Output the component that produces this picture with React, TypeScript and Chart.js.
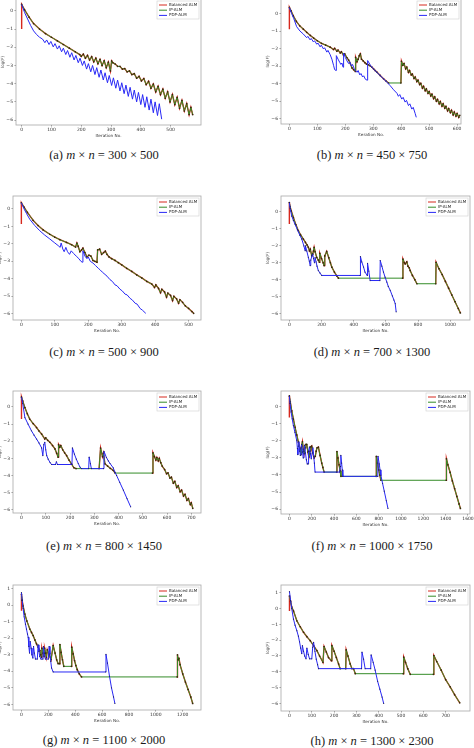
import React, { useEffect, useRef } from "react";
import { Chart, registerables } from "chart.js";
Chart.register(...registerables);

type P = [number, number][];

const SERIES_NAMES = ["Balanced ALM", "IP-ALM", "PDP-ALM"];
const Y_LABEL = "log(F)";
const X_LABEL = "Iteration No.";
const Y_TICKS_6 = [-6, -5, -4, -3, -2, -1, 0];
const Y_TICKS_7 = [-6, -5, -4, -3, -2, -1, 0, 1];

// (a) 300 x 500
const A_XTICKS = [0, 100, 200, 300, 400, 500];
const A_SPIKE = -1.0;
const A_IP: P = [[0,0.35],[10,0.05],[25,-0.35],[40,-0.7],[60,-1.0],[80,-1.25],[100,-1.45],[120,-1.65],[140,-1.85],[160,-2.05],[180,-2.25],[195,-2.4],[200,-2.5],[207,-2.38],[214,-2.6],[221,-2.45],[228,-2.7],[235,-2.52],[242,-2.8],[249,-2.6],[256,-2.9],[263,-2.67],[270,-3.0],[277,-2.74],[284,-3.12],[291,-2.82],[298,-3.3],[302,-2.75],[306,-2.85],[314,-2.92],[322,-3.05],[330,-3.05],[338,-3.2],[346,-3.17],[354,-3.35],[362,-3.3],[370,-3.5],[378,-3.45],[386,-3.7],[394,-3.6],[402,-3.85],[410,-3.72],[418,-4.05],[426,-3.87],[434,-4.25],[442,-4.02],[450,-4.45],[458,-4.15],[466,-4.6],[474,-4.3],[482,-4.8],[490,-4.45],[498,-5.0],[506,-4.6],[514,-5.15],[522,-4.75],[530,-5.35],[538,-4.92],[546,-5.5],[554,-5.1],[562,-5.7],[568,-5.3],[574,-5.7]];
const A_PDP: P = [[0,0.35],[10,-0.1],[20,-0.45],[30,-0.8],[40,-1.1],[50,-1.3],[60,-1.45],[70,-1.55],[78,-1.75],[84,-1.6],[92,-1.85],[98,-1.68],[106,-1.98],[112,-1.8],[120,-2.1],[126,-1.92],[134,-2.25],[140,-2.05],[148,-2.4],[154,-2.18],[162,-2.55],[168,-2.3],[176,-2.7],[182,-2.45],[190,-2.85],[196,-2.6],[204,-3.0],[210,-2.75],[218,-3.2],[224,-2.9],[232,-3.35],[238,-3.0],[246,-3.5],[252,-3.12],[260,-3.65],[266,-3.25],[274,-3.8],[280,-3.4],[288,-3.95],[294,-3.55],[302,-4.1],[308,-3.68],[316,-4.25],[322,-3.8],[330,-4.4],[336,-3.95],[344,-4.55],[350,-4.08],[358,-4.7],[364,-4.2],[372,-4.85],[378,-4.35],[386,-5.0],[392,-4.48],[400,-5.15],[406,-4.6],[414,-5.3],[420,-4.72],[428,-5.45],[434,-4.85],[442,-5.6],[448,-5.0],[456,-5.75],[462,-5.1],[470,-5.95]];

// (b) 450 x 750
const B_XTICKS = [0, 100, 200, 300, 400, 500, 600];
const B_SPIKE = -0.89;
const B_IP: P = [[0,0.35],[6,0.15],[14,-0.13],[25,-0.45],[37,-0.7],[50,-0.89],[62,-1.07],[75,-1.25],[87,-1.4],[100,-1.55],[115,-1.7],[130,-1.8],[146,-1.92],[158,-2.05],[162,-1.98],[170,-2.15],[174,-2.08],[182,-2.25],[186,-2.18],[194,-2.38],[198,-2.3],[206,-2.52],[212,-2.65],[218,-2.85],[224,-3.1],[230,-3.2],[236,-3.3],[237,-2.5],[242,-2.75],[246,-2.6],[250,-2.4],[254,-2.3],[258,-2.6],[264,-2.7],[270,-2.8],[276,-2.88],[282,-2.92],[289,-2.98],[295,-3.05],[301,-3.15],[307,-3.25],[313,-3.34],[325,-3.53],[337,-3.72],[346,-3.85],[355,-3.96],[399,-3.96],[401,-2.72],[406,-2.95],[410,-2.85],[416,-3.15],[420,-3.05],[426,-3.35],[430,-3.25],[436,-3.5],[440,-3.45],[446,-3.7],[450,-3.62],[456,-3.88],[460,-3.8],[466,-4.05],[470,-3.98],[476,-4.25],[480,-4.15],[486,-4.4],[490,-4.3],[496,-4.55],[500,-4.45],[506,-4.7],[510,-4.6],[516,-4.85],[520,-4.75],[526,-5.0],[530,-4.9],[536,-5.15],[540,-5.02],[546,-5.28],[550,-5.15],[556,-5.4],[560,-5.3],[566,-5.55],[570,-5.42],[576,-5.65],[580,-5.52],[586,-5.78],[590,-5.62],[596,-5.85],[600,-5.7],[606,-5.92],[610,-5.8]];
const B_PDP: P = [[0,0.35],[8,0.0],[16,-0.3],[26,-0.75],[38,-1.0],[50,-1.17],[62,-1.38],[66,-1.3],[74,-1.5],[78,-1.42],[86,-1.62],[90,-1.55],[98,-1.75],[102,-1.68],[110,-1.9],[114,-1.8],[122,-2.02],[126,-1.95],[134,-2.2],[138,-2.1],[146,-2.35],[152,-2.6],[158,-2.95],[162,-3.2],[167,-3.25],[168,-2.4],[174,-2.6],[180,-2.78],[184,-2.9],[188,-2.82],[192,-3.06],[194,-2.26],[200,-2.5],[206,-2.7],[212,-2.85],[216,-2.75],[222,-3.0],[226,-2.9],[232,-3.15],[236,-3.25],[242,-3.35],[246,-3.25],[252,-3.5],[256,-3.42],[262,-3.62],[266,-3.55],[272,-3.75],[278,-3.8],[280,-2.68],[290,-2.95],[300,-3.15],[313,-3.35],[325,-3.55],[337,-3.72],[349,-3.92],[361,-4.12],[373,-4.35],[385,-4.55],[390,-4.72],[395,-4.62],[402,-4.88],[407,-4.78],[414,-5.05],[419,-4.95],[426,-5.25],[431,-5.15],[438,-5.45],[443,-5.35],[450,-5.7],[454,-5.92]];

// (c) 500 x 900
const C_XTICKS = [0, 100, 200, 300, 400, 500];
const C_SPIKE = -0.87;
const C_IP: P = [[0,0.35],[8,0.1],[18,-0.2],[35,-0.65],[50,-0.95],[65,-1.2],[85,-1.45],[100,-1.62],[115,-1.76],[135,-1.92],[150,-2.05],[162,-2.18],[166,-1.95],[170,-2.15],[175,-2.45],[180,-2.35],[184,-2.25],[190,-2.5],[196,-2.75],[202,-2.65],[208,-2.7],[214,-2.95],[220,-3.0],[226,-3.05],[228,-2.35],[234,-2.3],[240,-2.6],[246,-2.5],[251,-2.42],[256,-2.6],[262,-2.75],[270,-2.85],[280,-2.95],[290,-3.08],[300,-3.2],[315,-3.4],[330,-3.58],[345,-3.78],[360,-3.95],[375,-4.15],[390,-4.3],[398,-4.5],[402,-4.35],[410,-4.55],[416,-4.8],[420,-4.6],[428,-4.75],[434,-5.05],[438,-4.82],[446,-4.95],[452,-5.25],[456,-5.0],[464,-5.15],[470,-5.4],[474,-5.2],[482,-5.35],[490,-5.55],[500,-5.7],[510,-5.88],[515,-5.98]];
const C_PDP: P = [[0,0.35],[8,0.0],[15,-0.25],[25,-0.59],[40,-0.95],[55,-1.25],[70,-1.5],[85,-1.72],[100,-1.95],[110,-2.1],[116,-2.2],[119,-1.95],[124,-2.3],[128,-2.45],[133,-2.2],[138,-2.45],[144,-2.6],[149,-2.4],[156,-2.55],[164,-2.7],[172,-2.85],[178,-3.0],[182,-3.05],[184,-2.4],[190,-2.7],[196,-2.85],[200,-2.75],[206,-3.0],[214,-3.1],[222,-3.25],[230,-3.4],[236,-3.5],[242,-3.62],[250,-3.75],[256,-3.85],[265,-4.05],[272,-4.15],[280,-4.35],[286,-4.4],[295,-4.6],[302,-4.7],[310,-4.88],[316,-4.92],[325,-5.12],[332,-5.22],[340,-5.4],[346,-5.45],[355,-5.7],[362,-5.8],[372,-5.98]];

// (d) 700 x 1300
const D_XTICKS = [0, 200, 400, 600, 800, 1000];
const D_SPIKE = -0.72;
const D_IP: P = [[0,0.55],[5,0.3],[12,0.05],[25,-0.33],[40,-0.75],[56,-1.11],[70,-1.35],[87,-1.6],[100,-1.8],[110,-1.95],[118,-2.09],[125,-2.3],[130,-2.2],[139,-2.58],[145,-2.5],[150,-2.3],[154,-2.09],[160,-2.35],[170,-2.68],[180,-2.85],[187,-2.97],[189,-2.44],[200,-2.75],[210,-3.0],[216,-3.17],[220,-2.6],[232,-2.33],[245,-2.7],[255,-3.0],[264,-3.26],[280,-3.55],[295,-3.78],[305,-3.91],[704,-3.91],[706,-2.78],[715,-3.0],[720,-3.07],[730,-2.95],[737,-3.2],[745,-3.3],[751,-3.46],[765,-3.75],[780,-4.0],[793,-4.24],[910,-4.24],[912,-2.97],[930,-3.35],[950,-3.7],[970,-4.1],[990,-4.5],[1010,-4.9],[1030,-5.3],[1050,-5.7],[1063,-5.96]];
const D_PDP: P = [[0,0.55],[5,0.2],[15,-0.25],[25,-0.5],[35,-0.72],[50,-1.05],[65,-1.38],[77,-1.6],[90,-2.0],[98,-2.29],[100,-2.0],[108,-2.3],[118,-2.68],[124,-2.9],[129,-3.17],[133,-2.85],[140,-2.6],[145,-2.48],[150,-2.75],[156,-3.0],[160,-2.7],[166,-2.95],[172,-3.2],[180,-3.46],[190,-3.6],[201,-3.75],[440,-3.75],[442,-2.64],[450,-2.95],[461,-3.25],[470,-3.55],[484,-3.75],[486,-3.03],[494,-3.5],[502,-4.05],[563,-4.05],[565,-2.87],[575,-3.2],[585,-3.55],[595,-3.85],[606,-4.14],[615,-4.4],[627,-4.63],[640,-4.95],[650,-5.2],[658,-5.41],[664,-5.9]];

// (e) 800 x 1450
const E_XTICKS = [0, 100, 200, 300, 400, 500, 600, 700];
const E_SPIKE = -0.71;
const E_IP: P = [[0,0.58],[5,0.35],[14,-0.04],[24,-0.4],[34,-0.71],[48,-0.97],[62,-1.2],[72,-1.4],[83,-1.58],[96,-1.87],[100,-1.8],[108,-1.95],[117,-2.06],[128,-2.25],[138,-2.45],[145,-2.7],[151,-2.93],[153,-2.2],[158,-2.35],[162,-2.25],[170,-2.5],[178,-2.68],[186,-2.84],[196,-3.1],[206,-3.32],[216,-3.55],[225,-3.6],[320,-3.6],[326,-2.4],[334,-2.9],[338,-2.7],[344,-3.32],[355,-3.45],[366,-3.58],[378,-3.7],[386,-3.86],[540,-3.86],[542,-2.68],[548,-2.9],[554,-3.1],[558,-2.95],[564,-3.15],[568,-3.0],[574,-3.25],[580,-3.45],[590,-3.65],[598,-3.9],[604,-3.85],[612,-4.15],[618,-4.1],[626,-4.45],[632,-4.35],[640,-4.7],[646,-4.6],[654,-4.95],[660,-4.85],[668,-5.2],[674,-5.1],[682,-5.45],[688,-5.35],[696,-5.7],[700,-5.6],[706,-5.92]];
const E_PDP: P = [[0,0.58],[5,0.2],[14,-0.62],[27,-1.0],[41,-1.39],[52,-1.65],[62,-1.87],[72,-2.1],[83,-2.39],[88,-2.84],[92,-2.2],[96,-2.06],[100,-2.5],[104,-2.84],[110,-3.05],[118,-3.25],[124,-3.36],[140,-3.36],[144,-3.2],[148,-3.36],[208,-3.36],[210,-2.39],[218,-2.75],[226,-3.05],[234,-3.3],[241,-3.51],[248,-3.6],[277,-3.6],[279,-2.93],[284,-3.3],[288,-3.6],[338,-3.6],[340,-2.59],[350,-2.95],[358,-3.15],[365,-3.3],[378,-3.55],[385,-3.8],[392,-4.0],[405,-4.4],[420,-4.86],[435,-5.35],[450,-5.83]];

// (f) 1000 x 1750
const F_XTICKS = [0, 200, 400, 600, 800, 1000, 1200, 1400, 1600];
const F_SPIKE = -0.62;
const F_IP: P = [[0,0.64],[8,0.3],[21,-0.23],[36,-0.72],[51,-1.2],[66,-1.65],[81,-2.08],[96,-2.47],[104,-2.8],[110,-2.3],[117,-2.05],[125,-2.5],[132,-2.75],[140,-2.4],[148,-2.2],[156,-2.2],[166,-2.65],[175,-2.95],[185,-2.6],[192,-2.35],[200,-2.3],[210,-2.7],[222,-3.0],[232,-2.9],[240,-2.6],[248,-2.4],[260,-2.37],[275,-2.85],[290,-3.3],[300,-3.55],[311,-3.83],[424,-3.83],[426,-2.62],[435,-3.0],[445,-3.4],[455,-3.75],[462,-4.08],[777,-4.08],[779,-2.91],[790,-3.3],[800,-3.7],[810,-4.0],[820,-4.31],[1405,-4.31],[1407,-3.05],[1420,-3.4],[1440,-3.85],[1460,-4.35],[1480,-4.8],[1500,-5.25],[1520,-5.7],[1532,-5.96]];
const F_PDP: P = [[0,0.64],[6,0.2],[15,-0.3],[25,-0.7],[36,-1.1],[50,-1.5],[66,-1.98],[72,-2.45],[76,-2.8],[80,-2.3],[85,-2.05],[92,-2.6],[98,-2.85],[104,-2.4],[110,-2.2],[118,-2.65],[124,-3.0],[130,-2.6],[136,-2.25],[144,-2.7],[152,-3.1],[160,-3.35],[168,-3.35],[172,-2.6],[180,-2.35],[188,-2.75],[196,-3.05],[204,-2.7],[210,-2.4],[218,-2.9],[224,-3.3],[230,-3.83],[450,-3.83],[458,-3.5],[461,-2.85],[468,-3.3],[474,-3.7],[479,-4.08],[792,-4.08],[794,-2.91],[805,-3.35],[812,-3.7],[820,-4.02],[835,-4.5],[850,-4.95],[868,-5.5],[883,-5.96]];

// (g) 1100 x 2000
const G_XTICKS = [0, 200, 400, 600, 800, 1000, 1200];
const G_SPIKE = -0.34;
const G_IP: P = [[0,0.66],[5,0.3],[12,-0.05],[25,-0.54],[40,-0.95],[62,-1.44],[75,-1.65],[87,-1.84],[100,-2.1],[112,-2.34],[125,-2.55],[137,-2.74],[143,-3.0],[149,-3.14],[152,-2.6],[160,-2.9],[168,-3.1],[172,-2.6],[180,-2.9],[186,-3.15],[192,-2.7],[205,-3.0],[220,-3.3],[236,-2.44],[250,-2.9],[262,-3.3],[273,-3.54],[284,-3.54],[286,-2.38],[295,-2.85],[305,-3.3],[315,-3.7],[372,-3.7],[374,-2.54],[385,-2.95],[395,-3.35],[405,-3.65],[415,-3.9],[430,-4.15],[447,-4.34],[1159,-4.34],[1161,-3.0],[1166,-3.3],[1172,-3.2],[1180,-3.6],[1200,-4.15],[1220,-4.65],[1240,-5.1],[1260,-5.55],[1274,-5.94]];
const G_PDP: P = [[0,0.76],[5,0.3],[12,-0.2],[20,-0.7],[30,-1.15],[37,-1.44],[45,-1.75],[50,-1.94],[55,-2.5],[60,-2.9],[65,-2.2],[72,-2.6],[78,-3.0],[85,-3.2],[90,-2.5],[96,-2.9],[104,-3.26],[118,-3.26],[124,-2.4],[130,-2.8],[136,-3.1],[145,-3.26],[160,-3.26],[164,-2.5],[170,-2.9],[178,-3.26],[200,-3.26],[206,-2.5],[212,-2.95],[218,-3.4],[224,-3.8],[236,-4.04],[627,-4.04],[629,-2.98],[640,-3.5],[655,-4.3],[670,-5.0],[685,-5.55],[695,-5.94]];

// (h) 1300 x 2300
const H_XTICKS = [0, 100, 200, 300, 400, 500, 600, 700];
const H_SPIKE = -0.15;
const H_IP: P = [[0,0.8],[5,0.45],[10,0.1],[18,-0.15],[33,-0.77],[48,-1.15],[63,-1.5],[78,-1.78],[93,-2.03],[108,-2.35],[123,-2.66],[135,-3.0],[150,-3.4],[155,-2.4],[165,-2.75],[175,-3.1],[188,-3.3],[190,-2.34],[200,-2.7],[210,-3.1],[220,-3.5],[227,-3.8],[252,-3.8],[254,-2.61],[262,-3.0],[272,-3.5],[280,-3.8],[287,-3.8],[295,-4.12],[510,-4.12],[512,-3.07],[520,-3.4],[530,-3.8],[541,-4.16],[645,-4.16],[647,-2.97],[660,-3.35],[680,-3.9],[700,-4.5],[720,-4.95],[740,-5.45],[763,-5.96]];
const H_PDP: P = [[0,1.07],[5,0.5],[10,0.0],[18,-0.67],[25,-1.05],[33,-1.4],[40,-1.75],[45,-2.1],[50,-2.5],[55,-2.85],[58,-2.35],[63,-2.7],[68,-3.0],[74,-3.18],[78,-2.5],[84,-2.9],[90,-3.18],[100,-3.18],[104,-2.45],[108,-2.13],[114,-2.7],[120,-3.2],[126,-3.55],[130,-3.8],[323,-3.8],[325,-2.76],[332,-3.2],[339,-3.8],[364,-3.8],[366,-2.93],[375,-3.4],[384,-3.9],[395,-4.6],[405,-5.1],[415,-5.6],[422,-6.0]];

const RED = "rgb(214,40,30)";
const GREEN = "rgb(52,140,40)";
const BLUE = "rgb(40,40,245)";
const MARK = "rgba(55,35,8,0.95)";
const BLUE_MARK = "rgba(15,15,70,0.85)";
const LEGEND_COLORS = [RED, GREEN, BLUE];
const SANS = "'DejaVu Sans', sans-serif";

type Cfg = {
  tag: string; m: string; n: string;
  frame: [number, number, number, number];
  xr: [number, number]; yr: [number, number];
  xt: number[]; yt: number[];
  spike: number; ip: P; pdp: P;
  cx: number; cy: number; pdpMarks: boolean;
};

const PANELS: Cfg[] = [
  { tag: "(a)", m: "300", n: "500", frame: [16, -2, 201, 125], xr: [-19, 602], yr: [-6.27, 0.65], xt: A_XTICKS, yt: Y_TICKS_6, spike: A_SPIKE, ip: A_IP, pdp: A_PDP, cx: 104, cy: 155, pdpMarks: false },
  { tag: "(b)", m: "450", n: "750", frame: [281, -2, 461, 124], xr: [-30, 614], yr: [-6.3, 0.83], xt: B_XTICKS, yt: Y_TICKS_6, spike: B_SPIKE, ip: B_IP, pdp: B_PDP, cx: 372, cy: 155, pdpMarks: false },
  { tag: "(c)", m: "500", n: "900", frame: [13, 195, 201, 320], xr: [-25, 537], yr: [-6.36, 0.74], xt: C_XTICKS, yt: Y_TICKS_6, spike: C_SPIKE, ip: C_IP, pdp: C_PDP, cx: 104, cy: 352, pdpMarks: false },
  { tag: "(d)", m: "700", n: "1300", frame: [281, 195, 470, 320], xr: [-52, 1123], yr: [-6.38, 0.94], xt: D_XTICKS, yt: Y_TICKS_6, spike: D_SPIKE, ip: D_IP, pdp: D_PDP, cx: 372, cy: 352, pdpMarks: true },
  { tag: "(e)", m: "800", n: "1450", frame: [13, 390, 201, 513], xr: [-35, 740], yr: [-6.19, 0.93], xt: E_XTICKS, yt: Y_TICKS_6, spike: E_SPIKE, ip: E_IP, pdp: E_PDP, cx: 104, cy: 546, pdpMarks: true },
  { tag: "(f)", m: "1000", n: "1750", frame: [281, 390, 470, 514], xr: [-75, 1618], yr: [-6.29, 0.93], xt: F_XTICKS, yt: Y_TICKS_6, spike: F_SPIKE, ip: F_IP, pdp: F_PDP, cx: 372, cy: 546, pdpMarks: true },
  { tag: "(g)", m: "1100", n: "2000", frame: [13, 584, 201, 710], xr: [-63, 1336], yr: [-6.34, 1.22], xt: G_XTICKS, yt: Y_TICKS_7, spike: G_SPIKE, ip: G_IP, pdp: G_PDP, cx: 104, cy: 740, pdpMarks: true },
  { tag: "(h)", m: "1300", n: "2300", frame: [281, 584, 470, 711], xr: [-38, 809], yr: [-6.48, 1.49], xt: H_XTICKS, yt: Y_TICKS_7, spike: H_SPIKE, ip: H_IP, pdp: H_PDP, cx: 372, cy: 741, pdpMarks: true },
];

const YW = 16, XH = 13, PT = 3, PR = 7;

const framePlugin = {
  id: "frameBox",
  afterDatasetsDraw(chart: any) {
    const { ctx, chartArea } = chart;
    const { left, top, right, bottom } = chartArea;
    ctx.save();
    ctx.strokeStyle = "#a8a8a8";
    ctx.lineWidth = 0.8;
    ctx.strokeRect(left, top, right - left, bottom - top);
    const w = 42, h = 18;
    const x = right - 2 - w, y = top + 2;
    ctx.fillStyle = "rgba(255,255,255,0.92)";
    ctx.strokeStyle = "#d0d0d0";
    ctx.lineWidth = 0.6;
    ctx.fillRect(x, y, w, h);
    ctx.strokeRect(x, y, w, h);
    ctx.font = "4px " + SANS;
    ctx.textBaseline = "middle";
    SERIES_NAMES.forEach((name, i) => {
      const ly = y + 4 + i * 5.2;
      ctx.strokeStyle = LEGEND_COLORS[i];
      ctx.lineWidth = 1;
      ctx.beginPath();
      ctx.moveTo(x + 2, ly);
      ctx.lineTo(x + 10, ly);
      ctx.stroke();
      ctx.fillStyle = "#222";
      ctx.fillText(name, x + 12, ly);
    });
    ctx.restore();
  },
};

const fmt = (v: any) => String(v).replace("-", "\u2212");
const toXY = (p: P) => p.map(([x, y]) => ({ x, y }));
const flatClear = (c: any) => (c.p0.parsed.y === c.p1.parsed.y ? "rgba(0,0,0,0)" : undefined);

function Panel({ cfg }: { cfg: Cfg }) {
  const ref = useRef<HTMLCanvasElement>(null);
  const [L, T, R, B] = cfg.frame;
  const W = R - L + YW + PR;
  const H = B - T + PT + XH;
  useEffect(() => {
    if (!ref.current) return;
    const tickFont = { size: 4.5, family: SANS };
    const chart = new Chart(ref.current, {
      type: "scatter",
      data: {
        datasets: [
          { label: SERIES_NAMES[0], data: toXY([[0, cfg.spike], ...cfg.ip]), showLine: true, borderColor: RED, borderWidth: 1.4, pointRadius: 0, order: 3, segment: { borderColor: flatClear } },
          { label: SERIES_NAMES[1], data: toXY(cfg.ip), showLine: true, borderColor: GREEN, borderWidth: 1, pointRadius: 0.85, pointBorderWidth: 0, pointBackgroundColor: MARK, order: 2 },
          { label: SERIES_NAMES[2], data: toXY(cfg.pdp), showLine: true, borderColor: BLUE, borderWidth: 1, pointRadius: cfg.pdpMarks ? 0.6 : 0, pointBorderWidth: 0, pointBackgroundColor: BLUE_MARK, order: 1 },
        ],
      },
      options: {
        responsive: false,
        animation: false,
        devicePixelRatio: 1,
        events: [],
        layout: { padding: { top: PT, right: PR, left: 0, bottom: 0 } },
        plugins: { legend: { display: false }, tooltip: { enabled: false } },
        scales: {
          x: {
            type: "linear", min: cfg.xr[0], max: cfg.xr[1],
            afterBuildTicks: (s: any) => { s.ticks = cfg.xt.map((v) => ({ value: v })); },
            afterFit: (s: any) => { s.height = XH; s.paddingLeft = 0; s.paddingRight = 0; },
            grid: { drawOnChartArea: false, drawTicks: true, tickLength: 1.5, color: "#555", lineWidth: 0.6 },
            border: { display: false },
            ticks: { font: tickFont, color: "#333", padding: 0.5, maxRotation: 0, autoSkip: false, callback: fmt },
            title: { display: true, text: X_LABEL, font: { size: 4.2, family: SANS }, color: "#333", padding: 0 },
          },
          y: {
            type: "linear", min: cfg.yr[0], max: cfg.yr[1],
            afterBuildTicks: (s: any) => { s.ticks = cfg.yt.map((v) => ({ value: v })); },
            afterFit: (s: any) => { s.width = YW; s.paddingTop = 0; s.paddingBottom = 0; },
            grid: { drawOnChartArea: false, drawTicks: true, tickLength: 1.5, color: "#555", lineWidth: 0.6 },
            border: { display: false },
            ticks: { font: tickFont, color: "#333", padding: 1.5, autoSkip: false, callback: fmt },
            title: { display: true, text: Y_LABEL, font: { size: 4.2, family: SANS }, color: "#333", padding: 0 },
          },
        },
      },
      plugins: [framePlugin],
    } as any);
    return () => chart.destroy();
  }, []);
  return (
    <canvas
      ref={ref}
      width={W}
      height={H}
      style={{ position: "absolute", left: L - YW, top: T - PT, width: W, height: H }}
    />
  );
}

function Caption({ cfg }: { cfg: Cfg }) {
  return (
    <div
      style={{
        position: "absolute", left: cfg.cx - 100, top: cfg.cy - 9, width: 200, height: 18,
        textAlign: "center", fontFamily: "'Liberation Serif', 'Times New Roman', 'DejaVu Serif', serif", fontSize: 12.5, lineHeight: "18px",
        color: "#1a1a1a", whiteSpace: "nowrap",
      }}
    >
      {cfg.tag}&nbsp;<i>m</i>&nbsp;×&nbsp;<i>n</i>&nbsp;=&nbsp;{cfg.m}&nbsp;×&nbsp;{cfg.n}
    </div>
  );
}

export default function App() {
  return (
    <div style={{ position: "absolute", left: 0, top: 0, width: 474, height: 748, background: "#fff", overflow: "hidden" }}>
      {PANELS.map((p) => (
        <React.Fragment key={p.tag}>
          <Panel cfg={p} />
          <Caption cfg={p} />
        </React.Fragment>
      ))}
    </div>
  );
}
